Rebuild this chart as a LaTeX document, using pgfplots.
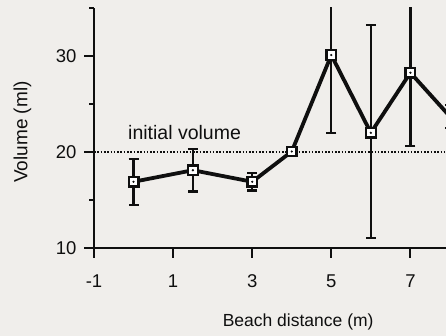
\documentclass[border=0pt]{standalone}
\usepackage{pgfplots}
\pgfplotsset{compat=1.18}
\usepackage{fontspec}
\setmainfont{Liberation Sans}
\definecolor{bg}{RGB}{240,238,235}
\definecolor{ink}{RGB}{15,15,15}
\begin{document}
\begin{tikzpicture}
\path[use as bounding box, fill=bg] (0,0) rectangle (446pt,336pt);
\begin{axis}[
  scale only axis,
  width=352pt, height=240pt,
  at={(94pt,88pt)}, anchor=south west,
  xmin=-1, xmax=7.9, ymin=10, ymax=35,
  axis x line*=bottom, axis y line*=left,
  axis line style={ink, line width=2pt},
  tick align=outside,
  major tick length=10pt, minor tick length=5pt,
  tick style={ink, line width=2pt},
  xtick={-1,1,3,5,7}, ytick={10,20,30}, minor ytick={15,25,35},
  minor xtick={},
  /pgf/number format/assume math mode=true,
  ticklabel style={font=\fontsize{18.5}{20}\selectfont, text=ink},
  xticklabel style={yshift=-13pt},
  yticklabel style={xshift=-4pt},
  xlabel={Beach distance (m)},
  ylabel={Volume (ml)},
  xlabel style={font=\fontsize{17.5}{20}\selectfont, text=ink, at={(rel axis cs:0.58,-0.308)}, anchor=center},
  ylabel style={font=\fontsize{19}{20}\selectfont, text=ink, at={(rel axis cs:-0.203,0.483)}, anchor=center, rotate=0},
  clip marker paths=true,
]
\addplot[ink, line width=1.8pt, dash pattern=on 1.6pt off 1.7pt] coordinates {(-1,20) (7.9,20)};
\addplot[ink, line width=3.8pt,
  mark=square*, mark size=4.8pt, mark options={fill=white, draw=ink, line width=2.3pt, solid},
  error bars/.cd, y dir=both, y explicit,
  error bar style={line width=2.3pt, ink},
  error mark options={rotate=90, mark size=5pt, line width=2.3pt, ink}]
  coordinates {
  (0,16.9) +- (0,2.4)
  (1.5,18.1) +- (0,2.2)
  (3,16.9) +- (0,0.9)
  (4,20.05) +- (0,0)
  (5,30.1) += (0,6) -= (0,8.1)
  (6,22.0) += (0,11.2) -= (0,10.95)
  (7,28.26) += (0,8) -= (0,7.66)
  (8,23.7) +- (0,1.2)
  };
\addplot[only marks, ink, mark=*, mark size=0.9pt] coordinates {
  (0,16.9) (1.5,18.1) (3,16.9) (4,20.05) (5,30.1) (6,22.0) (7,28.26) (8,23.7)};
\node[anchor=base west, font=\fontsize{19.5}{20}\selectfont, text=ink, inner sep=0pt] at (axis cs:-0.14,21.35) {initial volume};
\end{axis}
\end{tikzpicture}
\end{document}
